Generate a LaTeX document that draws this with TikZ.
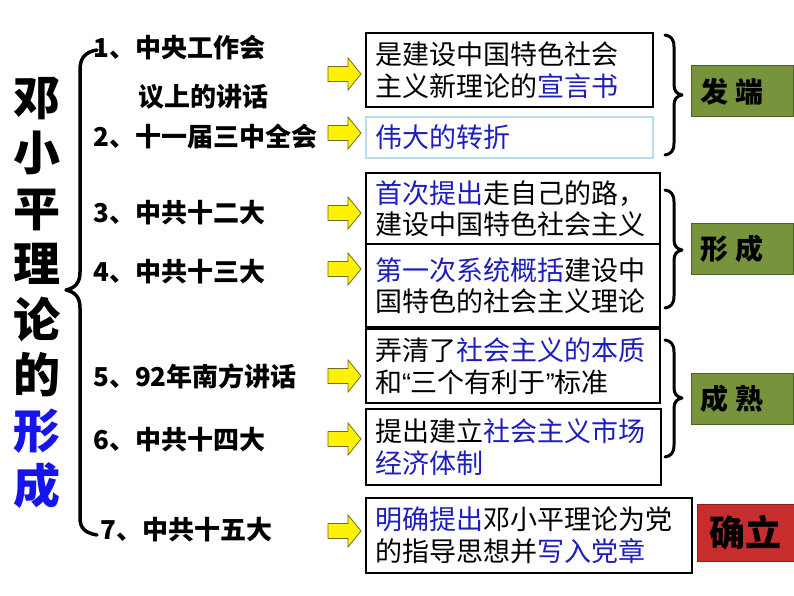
\documentclass[tikz,border=0pt]{standalone}
\usepackage{fontspec}
\setmainfont{Noto Sans CJK SC}
\newfontfamily\latinq{Liberation Sans}
\definecolor{tblue}{RGB}{30,30,190}
\definecolor{titleblue}{RGB}{20,20,235}
\definecolor{lblue}{RGB}{183,221,232}
\definecolor{ggreen}{RGB}{119,147,60}
\definecolor{gedge}{RGB}{79,98,40}
\definecolor{rred}{RGB}{200,45,45}
\definecolor{redge}{RGB}{140,30,30}
\definecolor{aedge}{RGB}{110,110,40}
\tikzset{
  lbl/.style={anchor=west, inner sep=0pt, font=\fontsize{26}{30}\selectfont\bfseries},
  box/.style={draw=black, line width=2pt, anchor=north west, outer sep=0pt,
    inner xsep=9pt, inner ysep=0pt, align=left, font=\fontsize{27}{31.5}\selectfont},
  gbox/.style={draw=gedge, fill=ggreen, line width=1pt, anchor=north west, outer sep=0pt,
    inner xsep=9pt, inner ysep=0pt, align=left, minimum width=102pt, text width=84pt,
    minimum height=51pt, font=\fontsize{28}{32}\selectfont\bfseries},
  brc/.style={line width=3pt, line cap=round, line join=round},
  yarr/.pic={\filldraw[fill=yellow, draw=aedge, line width=0.8pt]
    (-16,-7.5) -- (4,-7.5) -- (4,-16) -- (17,0) -- (4,16) -- (4,7.5) -- (-16,7.5) -- cycle;}
}
\begin{document}
\begin{tikzpicture}[x=1pt,y=-1pt]
\useasboundingbox (0,0) rectangle (794,596);
\fill[white] (0,0) rectangle (794,596);

% vertical title
\node[inner sep=0pt, align=center, font=\fontsize{47}{55.5}\selectfont\bfseries] (title) at (37,293)
  {邓\\小\\平\\理\\论\\的\\{\color{titleblue}形}\\{\color{titleblue}成}};

% left brace
\draw[brc, line width=3.5pt] (97,50) .. controls (85,52) and (80,58) .. (80,70) -- (80,272)
  .. controls (80,283) and (75,288) .. (66,290) .. controls (75,292) and (80,297) .. (80,308)
  -- (80,518) .. controls (80,528) and (85,533) .. (97,535);

% left labels
\node[lbl] (l1) at (93,48) {1、中央工作会};
\node[lbl] (l1b) at (138,97) {议上的讲话};
\node[lbl] (l2) at (93,137) {2、十一届三中全会};
\node[lbl] (l3) at (93,213) {3、中共十二大};
\node[lbl] (l4) at (93,272) {4、中共十三大};
\node[lbl] (l5) at (93,376) {5、92年南方讲话};
\node[lbl] (l6) at (93,440) {6、中共十四大};
\node[lbl] (l7) at (100,530) {7、中共十五大};

% yellow arrows
\pic (ar1) at (344,74) {yarr};
\pic (ar2) at (344,133) {yarr};
\pic (ar3) at (344,213) {yarr};
\pic (ar4) at (344,269) {yarr};
\pic (ar5) at (344,376) {yarr};
\pic (ar6) at (344,439) {yarr};
\pic (ar7) at (344,531) {yarr};

% content boxes
\node[box, minimum width=287pt, text width=269pt, minimum height=74pt] (b1) at (366,33)
  {是建设中国特色社会\\主义新理论的{\color{tblue}宣言书}};
\node[box, draw=lblue, minimum width=287pt, text width=269pt, minimum height=41pt] (b2) at (366,117)
  {{\color{tblue}伟大的转折}};
\node[box, minimum width=294pt, text width=276pt, minimum height=71pt] (b3) at (366,173)
  {{\color{tblue}首次提出}走自己的路，\\建设中国特色社会主义};
\node[box, minimum width=294pt, text width=276pt, minimum height=83pt] (b4) at (366,244)
  {{\color{tblue}第一次系统概括}建设中\\国特色的社会主义理论};
\node[box, minimum width=294pt, text width=276pt, minimum height=74pt] (b5) at (366,329)
  {弄清了{\color{tblue}社会主义的本质}\\和{\latinq “}三个有利于{\latinq ”}标准};
\node[box, minimum width=295pt, text width=277pt, minimum height=76pt] (b6) at (366,409)
  {提出建立{\color{tblue}社会主义市场}\\{\color{tblue}经济体制}};
\node[box, minimum width=326pt, text width=308pt, minimum height=75pt] (b7) at (366,498)
  {{\color{tblue}明确提出}邓小平理论为党\\的指导思想并{\color{tblue}写入党章}};

% right braces
\draw[brc] (665,35) .. controls (671,36) and (674,39) .. (674,47) -- (674,85)
  .. controls (674,91) and (677,94) .. (682,95) .. controls (677,96) and (674,99) .. (674,105)
  -- (674,143) .. controls (674,151) and (671,154) .. (665,155);
\draw[brc] (665,190) .. controls (671,191) and (674,194) .. (674,202) -- (674,240)
  .. controls (674,246) and (677,249) .. (682,250) .. controls (677,251) and (674,254) .. (674,260)
  -- (674,296) .. controls (674,304) and (671,307) .. (665,308);
\draw[brc] (665,340) .. controls (671,341) and (674,344) .. (674,352) -- (674,388)
  .. controls (674,394) and (677,397) .. (682,398) .. controls (677,399) and (674,402) .. (674,408)
  -- (674,445) .. controls (674,453) and (671,456) .. (665,457);

% stage boxes
\node[gbox] (g1) at (691,66) {发\hspace{8pt}端};
\node[gbox] (g2) at (691,223) {形\hspace{8pt}成};
\node[gbox] (g3) at (691,373) {成\hspace{8pt}熟};
\node[draw=redge, fill=rred, line width=1pt, anchor=north west, outer sep=0pt, inner sep=0pt,
  minimum width=97pt, minimum height=57pt, font=\fontsize{36}{40}\selectfont\bfseries] (r1) at (697,504) {确立};
\end{tikzpicture}
\end{document}
